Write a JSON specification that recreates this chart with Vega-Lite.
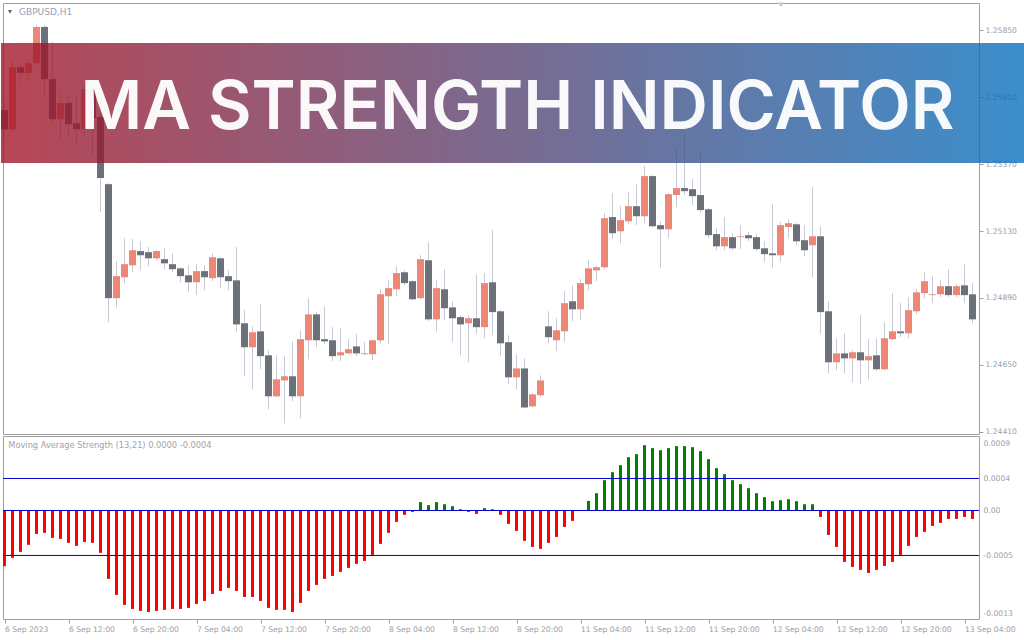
{
  "$schema": "https://vega.github.io/schema/vega-lite/v6.json",
  "padding": {"left": 0, "top": 2, "right": 0, "bottom": 0},
  "background": "white",
  "bounds": "flush",
  "spacing": 2,
  "datasets": {
    "candles": [
      {"i":0,"o":1.25564,"h":1.25596,"l":1.25470,"c":1.25495},
      {"i":1,"o":1.25495,"h":1.25740,"l":1.25481,"c":1.25718},
      {"i":2,"o":1.25718,"h":1.25732,"l":1.25661,"c":1.25697},
      {"i":3,"o":1.25697,"h":1.25750,"l":1.25668,"c":1.25732},
      {"i":4,"o":1.25732,"h":1.25869,"l":1.25725,"c":1.25862},
      {"i":5,"o":1.25862,"h":1.25869,"l":1.25614,"c":1.25675},
      {"i":6,"o":1.25675,"h":1.25808,"l":1.25513,"c":1.25531},
      {"i":7,"o":1.25531,"h":1.25635,"l":1.25456,"c":1.25589},
      {"i":8,"o":1.25589,"h":1.25621,"l":1.25470,"c":1.25513},
      {"i":9,"o":1.25517,"h":1.25621,"l":1.25434,"c":1.25495},
      {"i":10,"o":1.25495,"h":1.25657,"l":1.25470,"c":1.25639},
      {"i":11,"o":1.25639,"h":1.25650,"l":1.25399,"c":1.25535},
      {"i":12,"o":1.25539,"h":1.25553,"l":1.25198,"c":1.25320},
      {"i":13,"o":1.25298,"h":1.25302,"l":1.24803,"c":1.24889},
      {"i":14,"o":1.24889,"h":1.25022,"l":1.24856,"c":1.24968},
      {"i":15,"o":1.24964,"h":1.25104,"l":1.24943,"c":1.25011},
      {"i":16,"o":1.25007,"h":1.25101,"l":1.24982,"c":1.25061},
      {"i":17,"o":1.25058,"h":1.25093,"l":1.24989,"c":1.25043},
      {"i":18,"o":1.25054,"h":1.25072,"l":1.25004,"c":1.25032},
      {"i":19,"o":1.25032,"h":1.25061,"l":1.25025,"c":1.25058},
      {"i":20,"o":1.25029,"h":1.25068,"l":1.24993,"c":1.25014},
      {"i":21,"o":1.25011,"h":1.25050,"l":1.24982,"c":1.24993},
      {"i":22,"o":1.24996,"h":1.25000,"l":1.24946,"c":1.24968},
      {"i":23,"o":1.24971,"h":1.25007,"l":1.24910,"c":1.24946},
      {"i":24,"o":1.24946,"h":1.25011,"l":1.24900,"c":1.24986},
      {"i":25,"o":1.24986,"h":1.25007,"l":1.24918,"c":1.24964},
      {"i":26,"o":1.24961,"h":1.25050,"l":1.24950,"c":1.25036},
      {"i":27,"o":1.25032,"h":1.25036,"l":1.24925,"c":1.24964},
      {"i":28,"o":1.24968,"h":1.24989,"l":1.24918,"c":1.24950},
      {"i":29,"o":1.24953,"h":1.25072,"l":1.24767,"c":1.24795},
      {"i":30,"o":1.24799,"h":1.24846,"l":1.24609,"c":1.24713},
      {"i":31,"o":1.24713,"h":1.24788,"l":1.24562,"c":1.24767},
      {"i":32,"o":1.24770,"h":1.24867,"l":1.24634,"c":1.24681},
      {"i":33,"o":1.24684,"h":1.24702,"l":1.24490,"c":1.24537},
      {"i":34,"o":1.24537,"h":1.24684,"l":1.24533,"c":1.24598},
      {"i":35,"o":1.24594,"h":1.24681,"l":1.24440,"c":1.24609},
      {"i":36,"o":1.24609,"h":1.24734,"l":1.24519,"c":1.24537},
      {"i":37,"o":1.24537,"h":1.24774,"l":1.24458,"c":1.24742},
      {"i":38,"o":1.24738,"h":1.24889,"l":1.24670,"c":1.24831},
      {"i":39,"o":1.24831,"h":1.24839,"l":1.24713,"c":1.24738},
      {"i":40,"o":1.24742,"h":1.24860,"l":1.24724,"c":1.24734},
      {"i":41,"o":1.24738,"h":1.24785,"l":1.24663,"c":1.24681},
      {"i":42,"o":1.24684,"h":1.24781,"l":1.24663,"c":1.24695},
      {"i":43,"o":1.24691,"h":1.24742,"l":1.24688,"c":1.24706},
      {"i":44,"o":1.24716,"h":1.24760,"l":1.24681,"c":1.24691},
      {"i":45,"o":1.24688,"h":1.24731,"l":1.24684,"c":1.24691},
      {"i":46,"o":1.24688,"h":1.24742,"l":1.24666,"c":1.24738},
      {"i":47,"o":1.24738,"h":1.24921,"l":1.24727,"c":1.24903},
      {"i":48,"o":1.24896,"h":1.24953,"l":1.24724,"c":1.24925},
      {"i":49,"o":1.24921,"h":1.25004,"l":1.24896,"c":1.24979},
      {"i":50,"o":1.24982,"h":1.24989,"l":1.24935,"c":1.24943},
      {"i":51,"o":1.24950,"h":1.24953,"l":1.24882,"c":1.24885},
      {"i":52,"o":1.24889,"h":1.25043,"l":1.24885,"c":1.25029},
      {"i":53,"o":1.25025,"h":1.25090,"l":1.24806,"c":1.24813},
      {"i":54,"o":1.24813,"h":1.24953,"l":1.24770,"c":1.24925},
      {"i":55,"o":1.24921,"h":1.24993,"l":1.24810,"c":1.24853},
      {"i":56,"o":1.24856,"h":1.24878,"l":1.24731,"c":1.24817},
      {"i":57,"o":1.24821,"h":1.24828,"l":1.24684,"c":1.24795},
      {"i":58,"o":1.24799,"h":1.24828,"l":1.24659,"c":1.24817},
      {"i":59,"o":1.24817,"h":1.24975,"l":1.24760,"c":1.24785},
      {"i":60,"o":1.24785,"h":1.24979,"l":1.24745,"c":1.24943},
      {"i":61,"o":1.24946,"h":1.25133,"l":1.24756,"c":1.24839},
      {"i":62,"o":1.24842,"h":1.24846,"l":1.24681,"c":1.24727},
      {"i":63,"o":1.24731,"h":1.24756,"l":1.24580,"c":1.24605},
      {"i":64,"o":1.24605,"h":1.24688,"l":1.24562,"c":1.24637},
      {"i":65,"o":1.24637,"h":1.24673,"l":1.24494,"c":1.24497},
      {"i":66,"o":1.24501,"h":1.24548,"l":1.24497,"c":1.24544},
      {"i":67,"o":1.24541,"h":1.24612,"l":1.24533,"c":1.24594},
      {"i":68,"o":1.24788,"h":1.24842,"l":1.24727,"c":1.24749},
      {"i":69,"o":1.24738,"h":1.24817,"l":1.24699,"c":1.24774},
      {"i":70,"o":1.24770,"h":1.24914,"l":1.24731,"c":1.24871},
      {"i":71,"o":1.24878,"h":1.24935,"l":1.24806,"c":1.24849},
      {"i":72,"o":1.24849,"h":1.24957,"l":1.24810,"c":1.24943},
      {"i":73,"o":1.24939,"h":1.25025,"l":1.24918,"c":1.24996},
      {"i":74,"o":1.24989,"h":1.25004,"l":1.24950,"c":1.25000},
      {"i":75,"o":1.25000,"h":1.25194,"l":1.24993,"c":1.25176},
      {"i":76,"o":1.25180,"h":1.25266,"l":1.25101,"c":1.25122},
      {"i":77,"o":1.25129,"h":1.25219,"l":1.25086,"c":1.25169},
      {"i":78,"o":1.25165,"h":1.25269,"l":1.25154,"c":1.25219},
      {"i":79,"o":1.25219,"h":1.25298,"l":1.25151,"c":1.25183},
      {"i":80,"o":1.25183,"h":1.25363,"l":1.25158,"c":1.25327},
      {"i":81,"o":1.25327,"h":1.25330,"l":1.25144,"c":1.25147},
      {"i":82,"o":1.25151,"h":1.25165,"l":1.24996,"c":1.25136},
      {"i":83,"o":1.25136,"h":1.25266,"l":1.25104,"c":1.25262},
      {"i":84,"o":1.25259,"h":1.25427,"l":1.25215,"c":1.25284},
      {"i":85,"o":1.25284,"h":1.25474,"l":1.25259,"c":1.25273},
      {"i":86,"o":1.25280,"h":1.25316,"l":1.25223,"c":1.25255},
      {"i":87,"o":1.25259,"h":1.25420,"l":1.25194,"c":1.25205},
      {"i":88,"o":1.25208,"h":1.25212,"l":1.25104,"c":1.25115},
      {"i":89,"o":1.25119,"h":1.25140,"l":1.25061,"c":1.25075},
      {"i":90,"o":1.25075,"h":1.25180,"l":1.25061,"c":1.25108},
      {"i":91,"o":1.25108,"h":1.25122,"l":1.25061,"c":1.25068},
      {"i":92,"o":1.25108,"h":1.25151,"l":1.25065,"c":1.25111},
      {"i":93,"o":1.25115,"h":1.25126,"l":1.25093,"c":1.25104},
      {"i":94,"o":1.25108,"h":1.25119,"l":1.25058,"c":1.25065},
      {"i":95,"o":1.25068,"h":1.25093,"l":1.25018,"c":1.25047},
      {"i":96,"o":1.25050,"h":1.25226,"l":1.24996,"c":1.25043},
      {"i":97,"o":1.25043,"h":1.25162,"l":1.25018,"c":1.25151},
      {"i":98,"o":1.25144,"h":1.25172,"l":1.25104,"c":1.25158},
      {"i":99,"o":1.25154,"h":1.25158,"l":1.25079,"c":1.25093},
      {"i":100,"o":1.25097,"h":1.25151,"l":1.25040,"c":1.25061},
      {"i":101,"o":1.25079,"h":1.25287,"l":1.24964,"c":1.25111},
      {"i":102,"o":1.25111,"h":1.25147,"l":1.24760,"c":1.24839},
      {"i":103,"o":1.24842,"h":1.24878,"l":1.24620,"c":1.24659},
      {"i":104,"o":1.24659,"h":1.24745,"l":1.24630,"c":1.24691},
      {"i":105,"o":1.24691,"h":1.24763,"l":1.24620,"c":1.24673},
      {"i":106,"o":1.24673,"h":1.24702,"l":1.24587,"c":1.24695},
      {"i":107,"o":1.24695,"h":1.24828,"l":1.24580,"c":1.24666},
      {"i":108,"o":1.24666,"h":1.24742,"l":1.24598,"c":1.24681},
      {"i":109,"o":1.24684,"h":1.24745,"l":1.24627,"c":1.24634},
      {"i":110,"o":1.24634,"h":1.24803,"l":1.24630,"c":1.24745},
      {"i":111,"o":1.24742,"h":1.24907,"l":1.24738,"c":1.24770},
      {"i":112,"o":1.24770,"h":1.24871,"l":1.24749,"c":1.24763},
      {"i":113,"o":1.24763,"h":1.24892,"l":1.24745,"c":1.24846},
      {"i":114,"o":1.24842,"h":1.24921,"l":1.24831,"c":1.24910},
      {"i":115,"o":1.24907,"h":1.24982,"l":1.24889,"c":1.24950},
      {"i":116,"o":1.24900,"h":1.24968,"l":1.24871,"c":1.24903},
      {"i":117,"o":1.24903,"h":1.24953,"l":1.24892,"c":1.24932},
      {"i":118,"o":1.24932,"h":1.24993,"l":1.24892,"c":1.24900},
      {"i":119,"o":1.24900,"h":1.24939,"l":1.24892,"c":1.24932},
      {"i":120,"o":1.24935,"h":1.25011,"l":1.24871,"c":1.24900},
      {"i":121,"o":1.24903,"h":1.24943,"l":1.24799,"c":1.24813}
    ],
    "strength": [
      {"i":0,"v":-0.000702},{"i":1,"v":-0.000597},{"i":2,"v":-0.000522},{"i":3,"v":-0.000433},
      {"i":4,"v":-0.000295},{"i":5,"v":-0.000282},{"i":6,"v":-0.000345},{"i":7,"v":-0.000358},
      {"i":8,"v":-0.000408},{"i":9,"v":-0.000446},{"i":10,"v":-0.000396},{"i":11,"v":-0.000408},
      {"i":12,"v":-0.000534},{"i":13,"v":-0.000862},{"i":14,"v":-0.001064},{"i":15,"v":-0.00119},
      {"i":16,"v":-0.001241},{"i":17,"v":-0.001266},{"i":18,"v":-0.001279},{"i":19,"v":-0.001266},
      {"i":20,"v":-0.001253},{"i":21,"v":-0.001241},{"i":22,"v":-0.001241},{"i":23,"v":-0.001228},
      {"i":24,"v":-0.001178},{"i":25,"v":-0.00114},{"i":26,"v":-0.001052},{"i":27,"v":-0.001014},
      {"i":28,"v":-0.000976},{"i":29,"v":-0.001014},{"i":30,"v":-0.00109},{"i":31,"v":-0.00109},
      {"i":32,"v":-0.00114},{"i":33,"v":-0.001228},{"i":34,"v":-0.001253},{"i":35,"v":-0.001253},
      {"i":36,"v":-0.001279},{"i":37,"v":-0.001165},{"i":38,"v":-0.001014},{"i":39,"v":-0.000938},
      {"i":40,"v":-0.000862},{"i":41,"v":-0.000825},{"i":42,"v":-0.000774},{"i":43,"v":-0.000724},
      {"i":44,"v":-0.000673},{"i":45,"v":-0.000636},{"i":46,"v":-0.00056},{"i":47,"v":-0.000421},
      {"i":48,"v":-0.000282},{"i":49,"v":-0.000144},{"i":50,"v":-0.000055},{"i":51,"v":-0.000018},
      {"i":52,"v":0.000105},{"i":53,"v":0.000067},{"i":54,"v":0.000105},{"i":55,"v":0.000079},
      {"i":56,"v":0.000054},{"i":57,"v":0.000016},{"i":58,"v":-0.000018},{"i":59,"v":-0.000043},
      {"i":60,"v":0.000029},{"i":61,"v":0.000016},{"i":62,"v":-0.000055},{"i":63,"v":-0.000169},
      {"i":64,"v":-0.000257},{"i":65,"v":-0.000383},{"i":66,"v":-0.000459},{"i":67,"v":-0.000484},
      {"i":68,"v":-0.000408},{"i":69,"v":-0.000333},{"i":70,"v":-0.000207},{"i":71,"v":-0.000131},
      {"i":72,"v":0},{"i":73,"v":0.000121},{"i":74,"v":0.000218},{"i":75,"v":0.000382},
      {"i":76,"v":0.000483},{"i":77,"v":0.000571},{"i":78,"v":0.000672},{"i":79,"v":0.00071},
      {"i":80,"v":0.000823},{"i":81,"v":0.000786},{"i":82,"v":0.00076},{"i":83,"v":0.000786},
      {"i":84,"v":0.000811},{"i":85,"v":0.000811},{"i":86,"v":0.000798},{"i":87,"v":0.000748},
      {"i":88,"v":0.000647},{"i":89,"v":0.000533},{"i":90,"v":0.000458},{"i":91,"v":0.000382},
      {"i":92,"v":0.000332},{"i":93,"v":0.000281},{"i":94,"v":0.000218},{"i":95,"v":0.000168},
      {"i":96,"v":0.000117},{"i":97,"v":0.00013},{"i":98,"v":0.000142},{"i":99,"v":0.000117},
      {"i":100,"v":0.000079},{"i":101,"v":0.000079},{"i":102,"v":-0.000081},{"i":103,"v":-0.000308},
      {"i":104,"v":-0.000459},{"i":105,"v":-0.000648},{"i":106,"v":-0.000711},{"i":107,"v":-0.000749},
      {"i":108,"v":-0.000787},{"i":109,"v":-0.000749},{"i":110,"v":-0.000699},{"i":111,"v":-0.000648},
      {"i":112,"v":-0.00056},{"i":113,"v":-0.000446},{"i":114,"v":-0.000333},{"i":115,"v":-0.00027},
      {"i":116,"v":-0.000194},{"i":117,"v":-0.000156},{"i":118,"v":-0.000106},{"i":119,"v":-0.000106},
      {"i":120,"v":-0.000081},{"i":121,"v":-0.000106}
    ],
    "levels": [{"lv": 0.0004035}, {"lv": 0}, {"lv": -0.000567}]
  },
  "vconcat": [
    {
      "width": 976,
      "height": 431,
      "layer": [
        {
          "data": {"name": "candles"},
          "mark": {"type": "rule", "color": "#c9cad6", "strokeWidth": 1},
          "encoding": {
            "x": {"field": "i", "type": "quantitative", "scale": {"domain": [-0.1875, 121.8125], "nice": false, "zero": false, "padding": 0}, "axis": null},
            "y": {"field": "l", "type": "quantitative", "scale": {"domain": [1.244018, 1.259479], "nice": false, "zero": false, "padding": 0},
              "axis": {"orient": "right", "title": null, "values": [1.2585, 1.2573, 1.2561, 1.2549, 1.2537, 1.2525, 1.2513, 1.2501, 1.2489, 1.2477, 1.2465, 1.2453, 1.2441],
                "format": ".5f", "tickSize": 4, "labelPadding": 2, "labelBaseline": "middle", "labelFlush": false, "labelOverlap": false}},
            "y2": {"field": "h"}
          }
        },
        {
          "data": {"name": "candles"},
          "mark": {"type": "bar", "width": 7},
          "encoding": {
            "x": {"field": "i", "type": "quantitative"},
            "y": {"field": "o", "type": "quantitative"},
            "y2": {"field": "c"},
            "color": {"condition": {"test": "datum.c >= datum.o", "value": "#ee8676"}, "value": "#6b7079"}
          }
        },
        {
          "data": {"values": [{}]},
          "mark": {"type": "rect", "clip": false, "opacity": 0.78,
            "fill": {"gradient": "linear", "x1": 0, "y1": 0, "x2": 1, "y2": 0,
              "stops": [{"offset": 0, "color": "#a31225"}, {"offset": 1, "color": "#046fbe"}]}},
          "encoding": {
            "x": {"datum": -0.4375, "type": "quantitative"},
            "x2": {"datum": 127.5625},
            "y": {"datum": 1.258044, "type": "quantitative"},
            "y2": {"datum": 1.253739}
          }
        },
        {
          "data": {"values": [{"label": "MA STRENGTH INDICATOR"}]},
          "mark": {"type": "text", "font": "Inter", "fontWeight": 600, "fontSize": 67, "color": "#ffffff", "opacity": 0.96, "align": "center", "baseline": "alphabetic"},
          "encoding": {
            "x": {"datum": 64.125, "type": "quantitative"},
            "y": {"datum": 1.25496, "type": "quantitative"},
            "text": {"field": "label"}
          }
        },
        {
          "data": {"values": [{"label": "GBPUSD,H1"}]},
          "mark": {"type": "text", "font": "DejaVu Sans", "fontSize": 9, "color": "#9aa0b4", "align": "left", "baseline": "middle"},
          "encoding": {
            "x": {"datum": 1.8125, "type": "quantitative"},
            "y": {"datum": 1.25916, "type": "quantitative"},
            "text": {"field": "label"}
          }
        },
        {
          "data": {"values": [{}]},
          "mark": {"type": "point", "shape": "triangle-down", "filled": true, "size": 18, "color": "#606870", "opacity": 1},
          "encoding": {
            "x": {"datum": 0.6875, "type": "quantitative"},
            "y": {"datum": 1.25916, "type": "quantitative"}
          }
        },
        {
          "data": {"values": [{}]},
          "mark": {"type": "point", "shape": "triangle-down", "filled": true, "size": 30, "color": "#c8c8c8", "opacity": 1},
          "encoding": {
            "x": {"datum": 97.0625, "type": "quantitative"},
            "y": {"datum": 1.25941, "type": "quantitative"}
          }
        }
      ]
    },
    {
      "width": 976,
      "height": 183,
      "layer": [
        {
          "data": {"name": "strength"},
          "mark": {"type": "bar", "width": 3},
          "encoding": {
            "x": {"field": "i", "type": "quantitative", "scale": {"domain": [-0.1875, 121.8125], "nice": false, "zero": false, "padding": 0},
              "axis": {"orient": "bottom", "title": null, "values": [0, 8, 16, 24, 32, 40, 48, 56, 64, 72, 80, 88, 96, 104, 112, 120],
                "labelExpr": "['6 Sep 2023','6 Sep 12:00','6 Sep 20:00','7 Sep 04:00','7 Sep 12:00','7 Sep 20:00','8 Sep 04:00','8 Sep 12:00','8 Sep 20:00','11 Sep 04:00','11 Sep 12:00','11 Sep 20:00','12 Sep 04:00','12 Sep 12:00','12 Sep 20:00','13 Sep 04:00'][round(datum.value / 8)]",
                "labelAlign": "left", "labelBaseline": "top", "tickSize": 4, "labelPadding": 2, "labelFlush": false, "labelOverlap": false, "labelDx": -1}},
            "y": {"field": "v", "type": "quantitative", "scale": {"domain": [-0.001368, 0.000939], "nice": false, "zero": false, "padding": 0},
              "axis": {"orient": "right", "title": null, "values": [0.00084, 0.0004035, 0, -0.000567, -0.0013],
                "labelExpr": "datum.value > 0.0008 ? '0.0009' : datum.value > 0.0002 ? '0.0004' : datum.value > -0.0002 ? '0.00' : datum.value > -0.001 ? '-0.0005' : '-0.0013'",
                "ticks": false, "labelPadding": 4, "labelBaseline": "middle", "labelFlush": false, "labelOverlap": false}},
            "y2": {"datum": 0},
            "color": {"condition": {"test": "datum.v >= 0", "value": "#008000"}, "value": "#ff0000"}
          }
        },
        {
          "data": {"name": "levels"},
          "mark": {"type": "rule", "color": "#0000cc", "strokeWidth": 1},
          "encoding": {
            "y": {"field": "lv", "type": "quantitative"}
          }
        },
        {
          "data": {"values": [{"label": "Moving Average Strength (13,21) 0.0000 -0.0004"}]},
          "mark": {"type": "text", "font": "DejaVu Sans", "fontSize": 8.25, "color": "#a0a2ae", "align": "left", "baseline": "middle"},
          "encoding": {
            "x": {"datum": 0.475, "type": "quantitative"},
            "y": {"datum": 0.000811, "type": "quantitative"},
            "text": {"field": "label"}
          }
        }
      ]
    }
  ],
  "config": {
    "view": {"stroke": "#a0a0a0", "strokeWidth": 1},
    "axis": {"labelFont": "DejaVu Sans", "labelFontSize": 7.6, "labelColor": "#98a0b0", "tickColor": "#a0a0a0", "domain": false, "grid": false}
  }
}
